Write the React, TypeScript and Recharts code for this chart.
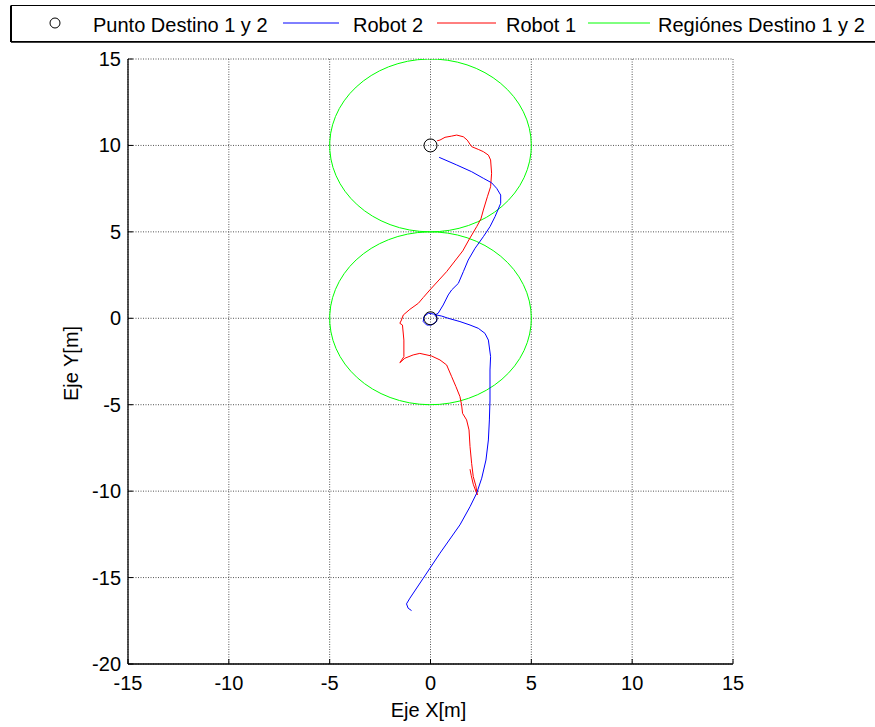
import React from 'react';
import { ScatterChart, Scatter, XAxis, YAxis, CartesianGrid, Legend } from 'recharts';

const xTicks = [-15, -10, -5, 0, 5, 10, 15];
const yTicks = [-20, -15, -10, -5, 0, 5, 10, 15];
const xDomain = [-15, 15];
const yDomain = [-20, 15];

const destinations = [
  { x: 0, y: 0 },
  { x: 0, y: 10 },
];
const regionRadius = 5;
const circleStep = 0.1;

const robot1 = [
  { x: 1.96, y: -8.73 }, { x: 2.02, y: -9.1 }, { x: 2.12, y: -9.6 }, { x: 2.32, y: -10.22 },
  { x: 2.25, y: -9.7 }, { x: 2.12, y: -9.16 }, { x: 2.04, y: -8.39 }, { x: 1.96, y: -7.42 },
  { x: 1.91, y: -6.46 }, { x: 1.79, y: -5.88 }, { x: 1.59, y: -5.5 }, { x: 1.54, y: -5.0 },
  { x: 1.46, y: -4.53 }, { x: 1.26, y: -3.95 }, { x: 1.05, y: -3.38 }, { x: 0.8, y: -2.7 },
  { x: 0.47, y: -2.41 }, { x: 0.05, y: -2.18 }, { x: -0.53, y: -2.03 }, { x: -0.86, y: -2.12 },
  { x: -1.27, y: -2.31 }, { x: -1.52, y: -2.57 }, { x: -1.32, y: -2.22 }, { x: -1.32, y: -1.26 },
  { x: -1.39, y: -0.39 }, { x: -1.52, y: -0.29 }, { x: -1.44, y: -0.1 }, { x: -1.35, y: 0.19 },
  { x: -1.02, y: 0.52 }, { x: -0.6, y: 0.87 }, { x: -0.36, y: 1.2 }, { x: -0.03, y: 1.64 },
  { x: 0.8, y: 2.7 }, { x: 1.6, y: 3.9 }, { x: 1.9, y: 4.53 }, { x: 2.29, y: 5.3 },
  { x: 2.5, y: 5.75 }, { x: 2.62, y: 6.26 }, { x: 2.82, y: 7.03 }, { x: 2.98, y: 7.61 },
  { x: 3.03, y: 8.39 }, { x: 2.98, y: 9.16 }, { x: 2.87, y: 9.44 }, { x: 2.62, y: 9.64 },
  { x: 2.37, y: 9.77 }, { x: 2.04, y: 9.93 }, { x: 1.82, y: 10.31 }, { x: 1.63, y: 10.5 },
  { x: 1.3, y: 10.6 }, { x: 1.05, y: 10.54 }, { x: 0.72, y: 10.47 }, { x: 0.47, y: 10.31 },
  { x: 0.33, y: 10.27 },
];

const robot2 = [
  { x: -0.94, y: -16.91 }, { x: -1.11, y: -16.77 }, { x: -1.19, y: -16.52 }, { x: -1.02, y: -16.19 },
  { x: -0.36, y: -15.04 }, { x: 0.47, y: -13.59 }, { x: 1.46, y: -11.95 }, { x: 1.96, y: -10.9 },
  { x: 2.29, y: -10.12 }, { x: 2.54, y: -9.25 }, { x: 2.75, y: -8.2 }, { x: 2.87, y: -7.04 },
  { x: 2.92, y: -5.88 }, { x: 2.95, y: -4.73 }, { x: 2.95, y: -2.99 }, { x: 2.98, y: -2.22 },
  { x: 2.87, y: -1.26 }, { x: 2.7, y: -0.87 }, { x: 2.37, y: -0.58 }, { x: 1.96, y: -0.39 },
  { x: 1.46, y: -0.19 }, { x: 0.88, y: 0 }, { x: 0.55, y: 0.13 }, { x: 0.3, y: 0.19 },
  { x: 0.14, y: 0.25 }, { x: -0.11, y: 0.29 }, { x: -0.33, y: 0.09 }, { x: -0.36, y: -0.19 },
  { x: -0.19, y: -0.39 }, { x: 0.05, y: -0.39 }, { x: 0.3, y: -0.19 }, { x: 0.33, y: 0 },
  { x: 0.22, y: 0.19 }, { x: 0.38, y: 0.29 }, { x: 0.63, y: 0.77 }, { x: 0.88, y: 1.35 },
  { x: 1.05, y: 1.64 }, { x: 1.38, y: 2.02 }, { x: 1.63, y: 2.7 }, { x: 1.87, y: 3.37 },
  { x: 2.21, y: 4.05 }, { x: 2.62, y: 4.72 }, { x: 2.95, y: 5.3 }, { x: 3.2, y: 5.88 },
  { x: 3.48, y: 6.65 }, { x: 3.48, y: 7.13 }, { x: 3.28, y: 7.52 }, { x: 3.03, y: 7.84 },
  { x: 2.62, y: 8.1 }, { x: 2.04, y: 8.48 }, { x: 1.3, y: 8.87 }, { x: 0.43, y: 9.31 },
];

const legendLabels = ['Punto Destino 1 y 2', 'Robot 2', 'Robot 1', 'Regiónes Destino 1 y 2'];

const FONT = '"Liberation Sans", Arial, Helvetica, sans-serif';

// Region boundary: circle of the given radius around each destination (MATLAB-style polygon)
const buildRegion = (c: { x: number; y: number }) => {
  const pts: { x: number; y: number }[] = [];
  const n = Math.floor((2 * Math.PI) / circleStep);
  for (let i = 0; i <= n; i++) {
    const t = i * circleStep;
    pts.push({ x: c.x + regionRadius * Math.cos(t), y: c.y + regionRadius * Math.sin(t) });
  }
  pts.push({ ...pts[0] });
  return pts;
};
const regions = destinations.map(buildRegion);

const noShape = () => <g />;

const DestShape = (props: any) => {
  const { cx, cy } = props;
  return <circle cx={cx} cy={cy} r={6.5} fill="none" stroke="#000" strokeWidth={1} />;
};

const BottomTick = (props: any) => {
  const { x, y, payload } = props;
  return (
    <g>
      <line x1={x} y1={y} x2={x} y2={y - 5} stroke="#000" />
      <text x={x} y={y + 26} textAnchor="middle" fontSize={20} fontFamily={FONT} fill="#000">
        {String(payload.value)}
      </text>
    </g>
  );
};
const TopTick = (props: any) => {
  const { x, y } = props;
  return <line x1={x} y1={y} x2={x} y2={y + 5} stroke="#000" />;
};
const LeftTick = (props: any) => {
  const { x, y, payload } = props;
  return (
    <g>
      <line x1={x} y1={y} x2={x + 5} y2={y} stroke="#000" />
      <text x={x - 7} y={y + 7} textAnchor="end" fontSize={20} fontFamily={FONT} fill="#000">
        {String(payload.value)}
      </text>
    </g>
  );
};
const RightTick = (props: any) => {
  const { x, y } = props;
  return <line x1={x} y1={y} x2={x - 5} y2={y} stroke="#000" />;
};

const XLabel = (props: any) => {
  const vb = props.viewBox || {};
  return (
    <text x={vb.x + vb.width / 2 - 2} y={vb.y + 53} textAnchor="middle" fontSize={20} fontFamily={FONT} fill="#000">
      Eje X[m]
    </text>
  );
};
const YLabel = (props: any) => {
  const vb = props.viewBox || {};
  const x = vb.x + 78;
  const y = vb.y + vb.height / 2 + 2;
  return (
    <text x={x} y={y} transform={`rotate(-90, ${x}, ${y})`} textAnchor="middle" fontSize={20} fontFamily={FONT} fill="#000">
      Eje Y[m]
    </text>
  );
};

const LegendContent = () => (
  <svg width={875} height={45} style={{ display: 'block' }}>
    <rect x={11} y={5.5} width={900} height={36} fill="#fff" stroke="#000" strokeWidth={1} />
    <line x1={11} y1={6} x2={11} y2={42} stroke="#000" strokeWidth={2} />
    <line x1={11} y1={42} x2={875} y2={42} stroke="#000" strokeWidth={1.5} />
    <circle cx={55} cy={23} r={5} fill="none" stroke="#000" strokeWidth={1} />
    <text x={93} y={32} fontSize={20} fontFamily={FONT} fill="#000">{legendLabels[0]}</text>
    <line x1={283} y1={23} x2={339} y2={23} stroke="#0000ff" strokeWidth={1} />
    <text x={353} y={32} fontSize={20} fontFamily={FONT} fill="#000">{legendLabels[1]}</text>
    <line x1={437} y1={23} x2={496} y2={23} stroke="#ff0000" strokeWidth={1} />
    <text x={506} y={32} fontSize={20} fontFamily={FONT} fill="#000">{legendLabels[2]}</text>
    <line x1={588} y1={23} x2={650} y2={23} stroke="#00ff00" strokeWidth={1} />
    <text x={658} y={32} fontSize={20} fontFamily={FONT} fill="#000">{legendLabels[3]}</text>
  </svg>
);

export default function App() {
  return (
    <div style={{ position: 'absolute', left: 0, top: 0, width: 875, height: 727, background: '#fff', overflow: 'hidden' }}>
      <ScatterChart width={875} height={727} margin={{ top: 59, right: 142, bottom: 0, left: 0 }}>
        <CartesianGrid xAxisId="b" yAxisId="l" stroke="#555555" strokeDasharray="1 1.5" />
        <XAxis
          xAxisId="b"
          type="number"
          dataKey="x"
          domain={xDomain}
          ticks={xTicks}
          allowDataOverflow
          height={63}
          tickSize={0}
          tickMargin={0}
          tickLine={false}
          axisLine={{ stroke: '#000', strokeWidth: 1.3 }}
          tick={BottomTick}
          interval={0}
          label={XLabel}
        />
        <XAxis
          xAxisId="t"
          orientation="top"
          type="number"
          dataKey="x"
          domain={xDomain}
          ticks={xTicks}
          allowDataOverflow
          height={0}
          tickSize={0}
          tickMargin={0}
          tickLine={false}
          axisLine={{ stroke: '#000', strokeWidth: 1.3 }}
          tick={TopTick}
          interval={0}
        />
        <YAxis
          yAxisId="l"
          type="number"
          dataKey="y"
          domain={yDomain}
          ticks={yTicks}
          allowDataOverflow
          width={128}
          tickSize={0}
          tickMargin={0}
          tickLine={false}
          axisLine={{ stroke: '#000', strokeWidth: 1.3 }}
          tick={LeftTick}
          interval={0}
          label={YLabel}
        />
        <YAxis
          yAxisId="r"
          orientation="right"
          type="number"
          dataKey="y"
          domain={yDomain}
          ticks={yTicks}
          allowDataOverflow
          width={0}
          tickSize={0}
          tickMargin={0}
          tickLine={false}
          axisLine={{ stroke: '#000', strokeWidth: 1.3 }}
          tick={RightTick}
          interval={0}
        />
        <Legend
          layout="horizontal"
          verticalAlign="middle"
          align="center"
          content={LegendContent}
          wrapperStyle={{ position: 'absolute', left: 0, top: 0, width: 875, height: 45, overflow: 'hidden' }}
        />
        {regions.map((pts, i) => (
          <Scatter
            key={`region-${i}`}
            name={legendLabels[3]}
            data={pts}
            xAxisId="b"
            yAxisId="l"
            line={{ stroke: '#00ff00', strokeWidth: 1 }}
            lineType="joint"
            shape={noShape}
            legendType="none"
            isAnimationActive={false}
          />
        ))}
        <Scatter
          name={legendLabels[2]}
          data={robot1}
          xAxisId="b"
          yAxisId="l"
          line={{ stroke: '#ff0000', strokeWidth: 1 }}
          lineType="joint"
          shape={noShape}
          legendType="none"
          isAnimationActive={false}
        />
        <Scatter
          name={legendLabels[1]}
          data={robot2}
          xAxisId="b"
          yAxisId="l"
          line={{ stroke: '#0000ff', strokeWidth: 1 }}
          lineType="joint"
          shape={noShape}
          legendType="none"
          isAnimationActive={false}
        />
        <Scatter
          name={legendLabels[0]}
          data={destinations}
          xAxisId="b"
          yAxisId="l"
          shape={DestShape}
          legendType="none"
          isAnimationActive={false}
        />
      </ScatterChart>
    </div>
  );
}
